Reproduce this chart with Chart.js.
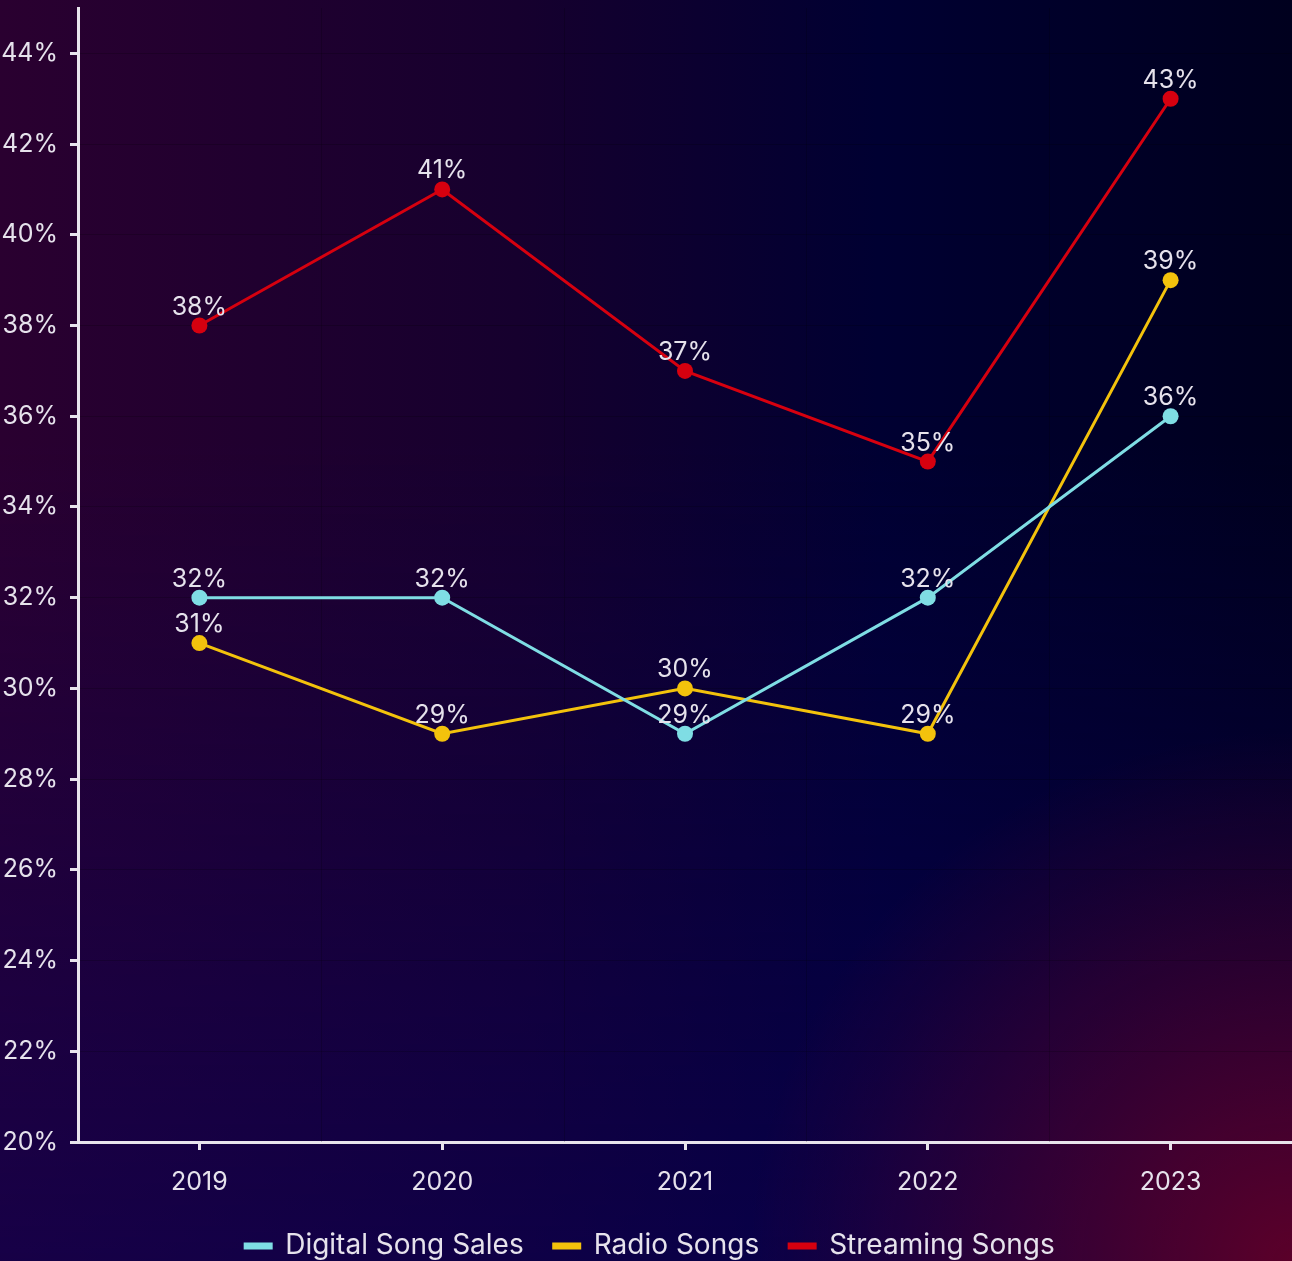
<!DOCTYPE html>
<html>
<head>
<meta charset="utf-8">
<script src="https://cdn.jsdelivr.net/npm/chart.js@4.4.1/dist/chart.umd.min.js"></script>
<style>
  html, body { margin: 0; padding: 0; overflow: hidden; }
  body {
    width: 1292px;
    height: 1261px;
    background:
      radial-gradient(ellipse 42% 42% at 100% 100%, rgba(95, 0, 40, 0.95) 0%, rgba(95, 0, 40, 0) 100%),
      linear-gradient(to bottom, rgba(10, 0, 80, 0) 35%, rgba(10, 0, 86, 0.6) 100%),
      linear-gradient(to right, #2a0030 0%, #16002e 40%, #000032 68%, #00001e 100%);
  }
  #wrap { position: absolute; left: 0; top: 0; width: 1300px; height: 1282px; }
</style>
</head>
<body>
<div id="wrap"><canvas id="myChart" width="1300" height="1282"></canvas></div>
<script>
const years = ['2019', '2020', '2021', '2022', '2023'];
const digitalSales = [32, 32, 29, 32, 36];
const radioSongs = [31, 29, 30, 29, 39];
const streamingSongs = [38, 41, 37, 35, 43];

const textColor = '#e6e2ec';
const axisColor = '#e8e4ec';
const fontFamily = 'Inter, "Open Sans", sans-serif';

// faint vertical lines between the categories
const columnLines = {
  id: 'columnLines',
  beforeDatasetsDraw(chart) {
    const x = chart.scales.x;
    const area = chart.chartArea;
    const ctx = chart.ctx;
    ctx.save();
    ctx.strokeStyle = 'rgba(0, 0, 0, 0.18)';
    ctx.lineWidth = 1;
    for (let i = 0; i < years.length - 1; i++) {
      const px = Math.round((x.getPixelForTick(i) + x.getPixelForTick(i + 1)) / 2) + 0.5;
      ctx.beginPath();
      ctx.moveTo(px, area.top);
      ctx.lineTo(px, area.bottom);
      ctx.stroke();
    }
    ctx.restore();
  }
};

// pull the legend a little closer to the axis
const legendLift = {
  id: 'legendLift',
  afterLayout(chart) {
    chart.legend.top -= 12;
    chart.legend.bottom -= 12;
  }
};

// draws the "38%" style labels above each point
const pointLabels = {
  id: 'pointLabels',
  afterDatasetsDraw(chart) {
    const ctx = chart.ctx;
    ctx.save();
    ctx.font = '25px ' + fontFamily;
    ctx.fillStyle = textColor;
    ctx.textAlign = 'center';
    ctx.textBaseline = 'bottom';
    chart.data.datasets.forEach((ds, i) => {
      chart.getDatasetMeta(i).data.forEach((pt, j) => {
        ctx.fillText(ds.data[j] + '%', pt.x, pt.y - 6);
      });
    });
    ctx.restore();
  }
};

function makeSet(label, data, color) {
  return {
    label: label,
    data: data,
    borderColor: color,
    backgroundColor: color,
    borderWidth: 3,
    pointRadius: 8,
    pointHoverRadius: 8,
    pointBackgroundColor: color,
    pointBorderWidth: 0,
    tension: 0
  };
}

const ctx = document.getElementById('myChart').getContext('2d');
new Chart(ctx, {
  type: 'line',
  data: {
    labels: years,
    datasets: [
      makeSet('Digital Song Sales', digitalSales, '#7fdde4'),
      makeSet('Radio Songs', radioSongs, '#f3c20c'),
      makeSet('Streaming Songs', streamingSongs, '#d6000f')
    ]
  },
  plugins: [columnLines, legendLift, pointLabels],
  options: {
    responsive: false,
    animation: false,
    layout: { padding: { top: 3, right: 0, left: 0, bottom: 0 } },
    plugins: {
      tooltip: { enabled: false },
      legend: {
        position: 'bottom',
        labels: {
          color: textColor,
          font: { family: fontFamily, size: 28 },
          boxWidth: 26,
          boxHeight: 4,
          padding: 30
        }
      }
    },
    scales: {
      x: {
        offset: true,
        border: { color: axisColor, width: 3 },
        grid: {
          offset: false,
          drawOnChartArea: false,
          tickColor: axisColor,
          tickWidth: 3,
          tickLength: 8
        },
        ticks: {
          color: textColor,
          font: { family: fontFamily, size: 25 },
          padding: 17
        },
        afterFit(scale) {
          scale.paddingLeft = 0;
          scale.paddingRight = 0;
        }
      },
      y: {
        min: 20,
        max: 45,
        border: { color: axisColor, width: 3 },
        grid: {
          color: 'rgba(0, 0, 0, 0.18)',
          lineWidth: 1,
          tickColor: axisColor,
          tickWidth: 3,
          tickLength: 8
        },
        ticks: {
          stepSize: 2,
          includeBounds: false,
          color: textColor,
          font: { family: fontFamily, size: 25 },
          padding: 12,
          callback: v => v + '%'
        },
        afterFit(scale) {
          scale.width = 78;
          scale.paddingTop = 0;
          scale.paddingBottom = 0;
        }
      }
    }
  }
});
</script>
</body>
</html>
